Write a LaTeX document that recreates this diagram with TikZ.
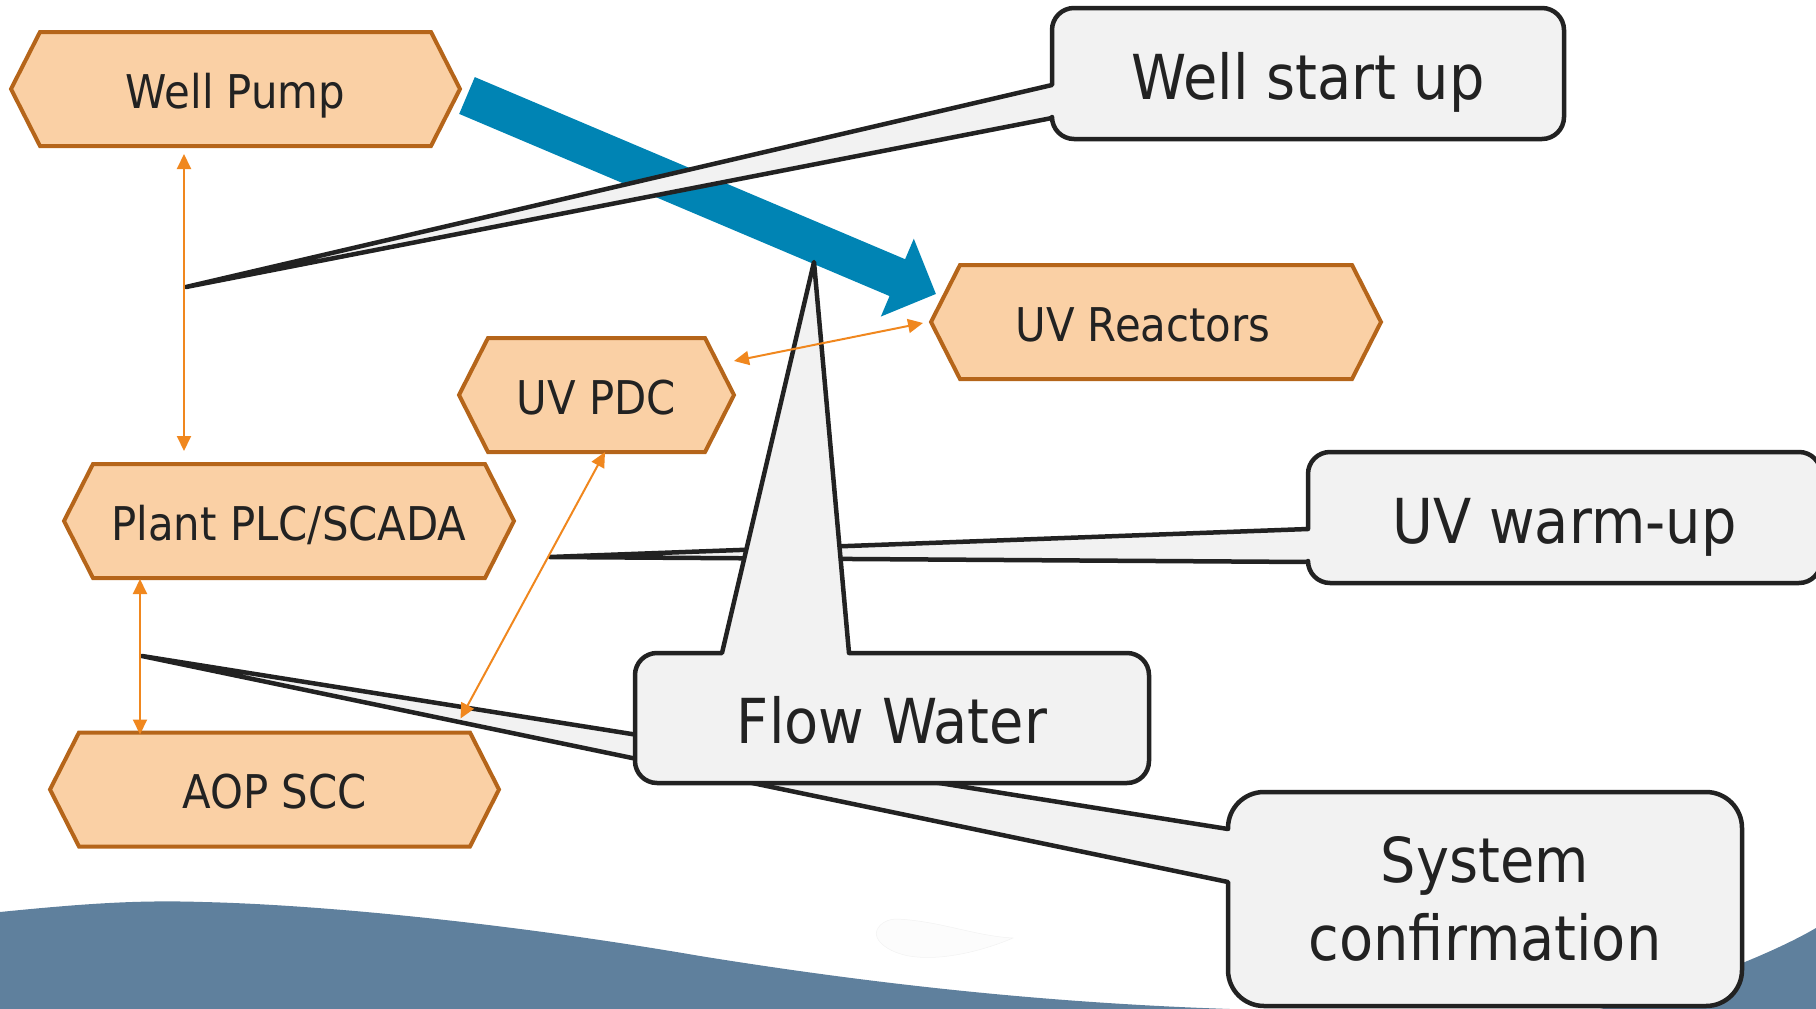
\documentclass[tikz,border=0pt]{standalone}
\usepackage{fontspec}
\setmainfont{DejaVu Sans}[FakeStretch=0.9]
\usetikzlibrary{arrows.meta,calc}

\definecolor{ink}{RGB}{34,34,34}
\definecolor{hexfill}{RGB}{250,208,165}
\definecolor{hexedge}{RGB}{181,101,26}
\definecolor{linkorange}{RGB}{240,135,30}
\definecolor{flowblue}{RGB}{0,132,180}
\definecolor{callfill}{RGB}{242,242,242}
\definecolor{wave}{RGB}{95,128,157}

\pgfdeclarelayer{shapes}
\pgfsetlayers{shapes,main}

\tikzset{
  hexlabel/.style={inner sep=0pt, outer sep=0pt, minimum height=114pt,
    text=ink, font=\fontsize{46.5pt}{56pt}\selectfont,
    text height=38pt, text depth=0pt},
  hexshape/.style={fill=hexfill, draw=hexedge, line width=4pt, line join=miter},
  callshape/.style={fill=callfill, draw=ink, line width=4.5pt, line join=round},
  calltext/.style={inner sep=0pt, outer sep=0pt, text=ink,
    font=\fontsize{62pt}{78pt}\selectfont, align=center},
  callline/.style={calltext, text height=51pt, text depth=0pt},
  link/.style={draw=linkorange, line width=2pt,
    {Triangle[length=15pt,width=14pt]}-{Triangle[length=15pt,width=14pt]}},
  flow/.style={draw=flowblue, line width=40pt,
    -{Triangle[length=42pt,width=82pt]}},
}

% hexagon node: name, centre, width, text
\newcommand{\hexnode}[4]{%
  \node[hexlabel, minimum width=#3] (#1) at (#2) {#4};
  \begin{pgfonlayer}{shapes}
    \path[hexshape] ([xshift=29pt]#1.north west) -- ([xshift=-29pt]#1.north east)
      -- (#1.east) -- ([xshift=-29pt]#1.south east)
      -- ([xshift=29pt]#1.south west) -- (#1.west) -- cycle;
  \end{pgfonlayer}}

% rounded callout with its pointer on the left edge:
% left, top, right, bottom, radius, pointer top, pointer bottom, tip
\newcommand{\leftcallout}[8]{%
  \filldraw[callshape] (#8) -- (#1,#7) -- (#1,#4-#5)
    arc[start angle=180,end angle=270,radius=#5pt] -- (#3-#5,#4)
    arc[start angle=270,end angle=360,radius=#5pt] -- (#3,#2+#5)
    arc[start angle=0,end angle=90,radius=#5pt] -- (#1+#5,#2)
    arc[start angle=90,end angle=180,radius=#5pt] -- (#1,#6) -- cycle;}

\begin{document}
\begin{tikzpicture}[x=1pt,y=-1pt]
\useasboundingbox (0,0) rectangle (1816,1009);

% bottom waves
\begin{pgfonlayer}{shapes}
  \fill[wave] (0,912) .. controls (90,903) and (140,900) .. (203,902)
    .. controls (330,905) and (520,925) .. (700,956)
    .. controls (880,985) and (1050,1003) .. (1230,1009)
    -- (0,1009) -- cycle;
  \fill[wave] (1600,1009) .. controls (1680,990) and (1770,955) .. (1816,928)
    -- (1816,1009) -- cycle;
  \filldraw[fill={rgb,255:red,252;green,252;blue,252}, draw={rgb,255:red,242;green,242;blue,242}, line width=0.5pt]
    (897,919) .. controls (940,921) and (975,936) .. (1013,938)
    .. controls (990,948) and (950,960) .. (917,957)
    .. controls (890,955) and (872,940) .. (877,930)
    .. controls (880,923) and (888,919) .. (897,919) -- cycle;
\end{pgfonlayer}

% system components
\hexnode{wp}{235.5,89}{449pt}{Well Pump}
\hexnode{pl}{289,521}{450pt}{Plant PLC/SCADA}
\hexnode{aop}{274.5,789.5}{449pt}{AOP SCC}
\hexnode{pdc}{596.5,395}{275pt}{UV PDC}
\hexnode{uvr}{1156,322}{450pt}{UV Reactors\rule{26pt}{0pt}}

% water flow
\draw[flow] ([xshift=7pt,yshift=-6.5pt]wp.east) -- ([xshift=5pt,yshift=28pt]uvr.west);

% sequence callouts
\coordinate (scTip) at (142,656);
\coordinate (wsTip) at (186,287);
\coordinate (uwTip) at (550,557);
\coordinate (fwTip) at (814,262);

\leftcallout{1228}{792}{1742}{1006}{36}{829}{882}{scTip}
\node[calltext] (sc) at (1485,899) {System\\confirmation};

\leftcallout{1052}{8}{1564}{139}{22}{85}{118}{wsTip}
\node[callline] (ws) at (1308,73.5) {Well start up};

\leftcallout{1308}{452}{1821}{583}{22}{529}{562}{uwTip}
\node[callline] (uw) at (1564.5,517.5) {UV warm-up};

\filldraw[callshape] (fwTip) -- (849,653) -- (1127,653)
  arc[start angle=90,end angle=0,radius=22pt] -- (1149,761)
  arc[start angle=0,end angle=-90,radius=22pt] -- (657,783)
  arc[start angle=270,end angle=180,radius=22pt] -- (635,675)
  arc[start angle=180,end angle=90,radius=22pt] -- (722,653) -- cycle;
\node[callline] (fw) at (892,718) {Flow Water};

% control links
\draw[link] ([xshift=-51.5pt,yshift=-8pt]wp.south) -- ([xshift=-105pt,yshift=13pt]pl.north);
\draw[link] ([xshift=-149pt,yshift=-1pt]pl.south) -- ([xshift=-134.5pt,yshift=-2pt]aop.north);
\draw[link] ([xshift=8.5pt]pdc.south) -- ([xshift=-38.5pt,yshift=14pt]aop.north east);
\draw[link] ([yshift=34pt]pdc.east) -- ([xshift=-8pt,yshift=-1pt]uvr.west);
\end{tikzpicture}
\end{document}
